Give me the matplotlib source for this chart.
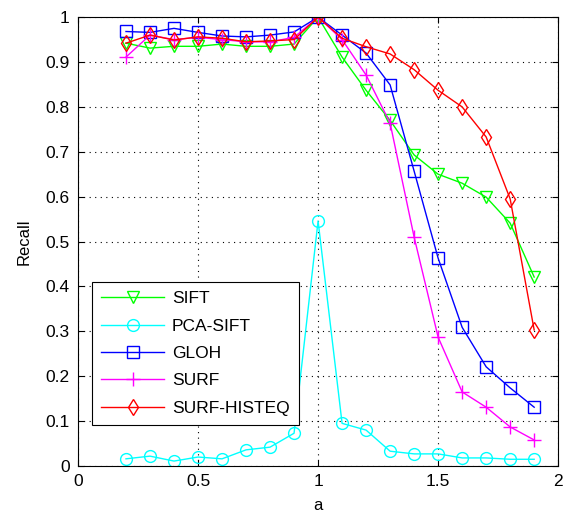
import matplotlib
matplotlib.use("Agg")
import matplotlib.pyplot as plt

plt.rcParams['font.family'] = ['Liberation Sans', 'DejaVu Sans']

a = [0.2, 0.3, 0.4, 0.5, 0.6, 0.7, 0.8, 0.9, 1.0,
     1.1, 1.2, 1.3, 1.4, 1.5, 1.6, 1.7, 1.8, 1.9]

sift = [0.942, 0.931, 0.935, 0.935, 0.940, 0.935, 0.935, 0.940, 1.0,
        0.911, 0.837, 0.770, 0.693, 0.650, 0.630, 0.599, 0.541, 0.421]
pca_sift = [0.016, 0.022, 0.011, 0.020, 0.016, 0.036, 0.042, 0.073, 0.546,
            0.095, 0.080, 0.033, 0.027, 0.027, 0.018, 0.018, 0.015, 0.015]
gloh = [0.968, 0.966, 0.975, 0.966, 0.958, 0.956, 0.960, 0.967, 1.0,
        0.960, 0.920, 0.849, 0.657, 0.463, 0.309, 0.221, 0.174, 0.131]
surf = [0.911, 0.960, 0.950, 0.955, 0.950, 0.945, 0.945, 0.955, 1.0,
        0.950, 0.871, 0.764, 0.510, 0.287, 0.165, 0.131, 0.087, 0.058]
surf_histeq = [0.942, 0.960, 0.949, 0.956, 0.953, 0.945, 0.947, 0.950, 1.0,
               0.953, 0.934, 0.918, 0.883, 0.837, 0.800, 0.733, 0.595, 0.303]

series = [
    ("SIFT", sift, (0, 1, 0), 'v', 9),
    ("PCA-SIFT", pca_sift, (0, 1, 1), 'o', 8.5),
    ("GLOH", gloh, (0, 0, 1), 's', 9),
    ("SURF", surf, (1, 0, 1), '+', 10),
    ("SURF-HISTEQ", surf_histeq, (1, 0, 0), 'd', 8.5),
]

fig = plt.figure(figsize=(5.69, 5.13), dpi=100)
ax = fig.add_axes([0.137, 0.0916, 0.844, 0.875])

for name, vals, col, mk, ms in series:
    ax.plot(a, vals, color=col, marker=mk, markersize=ms,
            markerfacecolor='none', markeredgecolor=col,
            linewidth=1.0, markeredgewidth=1.0, label=name)

ax.set_xlim(0, 2)
ax.set_ylim(0, 1)
ax.set_xticks([0, 0.5, 1, 1.5, 2])
ax.set_xticklabels(['0', '0.5', '1', '1.5', '2'])
ax.set_yticks([i / 10 for i in range(11)])
ax.set_yticklabels(['0', '0.1', '0.2', '0.3', '0.4', '0.5', '0.6',
                    '0.7', '0.8', '0.9', '1'])
ax.tick_params(direction='in', length=4, labelsize=12.5, top=True, right=True,
               colors='black', pad=6)
ax.grid(True, color='black', linestyle=(0, (1, 4)), linewidth=0.8)
for sp in ax.spines.values():
    sp.set_linewidth(0.8)

ax.set_xlabel('a', fontsize=12, labelpad=6)
ax.set_ylabel('Recall', fontsize=12, labelpad=10)

leg = ax.legend(loc='lower left', bbox_to_anchor=(0.029, 0.091),
                borderaxespad=0, fancybox=False, framealpha=1,
                edgecolor='black', fontsize=12.5, handlelength=3.6,
                labelspacing=0.7, borderpad=0.55, handletextpad=0.45)
leg.get_frame().set_linewidth(0.8)

fig.savefig('out.png', dpi=100)
